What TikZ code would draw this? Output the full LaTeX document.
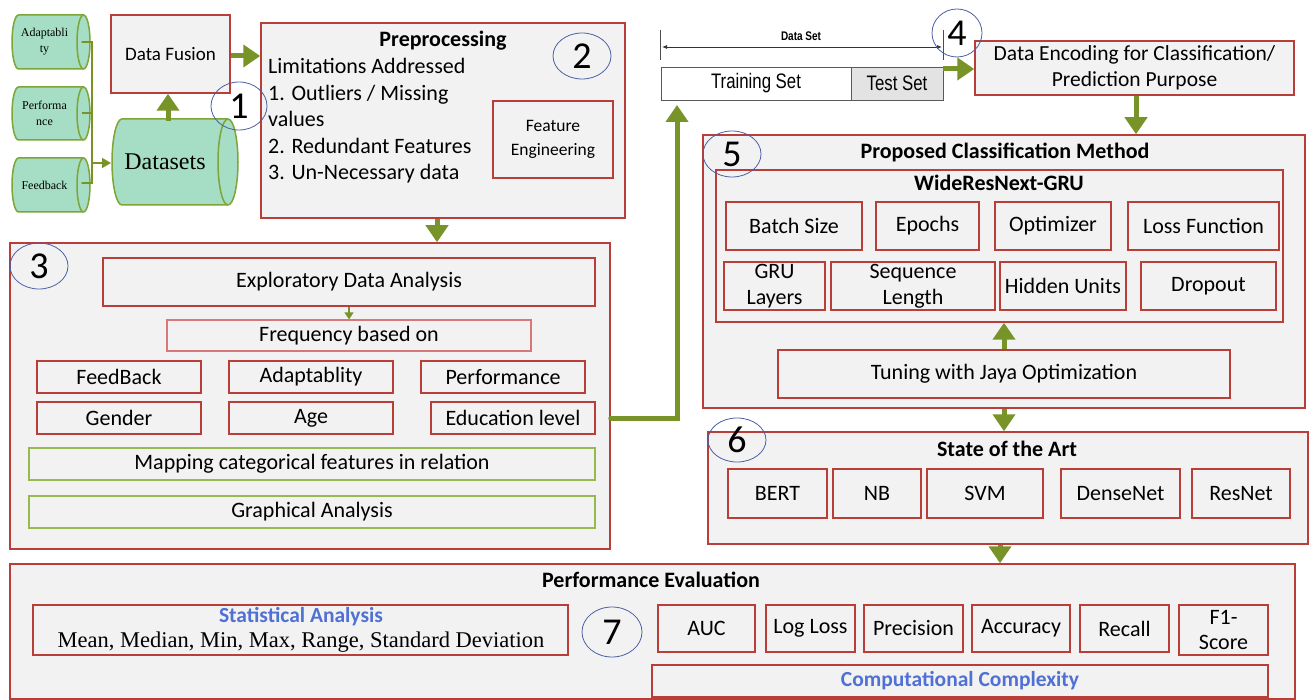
\documentclass[tikz,border=0pt]{standalone}
\usepackage{fontspec}
\setmainfont{Carlito}
\newfontfamily\tms{Liberation Serif}
\newfontfamily\arn[FakeStretch=0.8]{Liberation Sans}
\usetikzlibrary{arrows.meta,shapes.geometric,shadows}
\definecolor{bred}{RGB}{185,62,58}
\definecolor{bfill}{RGB}{242,242,242}
\definecolor{agreen}{RGB}{120,148,40}
\definecolor{lgreen}{RGB}{150,185,80}
\definecolor{cylfill}{RGB}{165,221,197}
\definecolor{cylline}{RGB}{125,165,55}
\definecolor{cblue}{RGB}{75,95,165}
\definecolor{tblue}{RGB}{80,112,212}
\definecolor{pred}{RGB}{215,120,120}
\newcommand\fs[2]{\fontsize{#1}{#2}\selectfont}
\newcommand\mkbox[7]{\node[#1,minimum width={#5-#3},minimum height={#6-#4}] (#2) at ({(#3+#5)/2},{(#4+#6)/2}) {#7};}
\newcommand\mkcyl[8]{%
  \path[fill=cylfill, draw=cylline, line width=1.5pt] (#2+#6,#3) -- (#4-#6,#3)
    arc[start angle=90,end angle=-90,x radius=#6pt,y radius={(#5-#3)/2*1pt}] -- (#2+#6,#5)
    arc[start angle=270,end angle=90,x radius=#6pt,y radius={(#5-#3)/2*1pt}] -- cycle;
  \draw[cylline, line width=1.5pt] (#4-#6,#3) arc[start angle=90,end angle=270,x radius=#6pt,y radius={(#5-#3)/2*1pt}];
  \node[align=center, inner sep=0, font=#8] (#1) at ({(#2+#4)/2-#6},{(#3+#5)/2}) {#7};}
\begin{document}
\begin{tikzpicture}[x=1pt,y=-1pt,
  shd/.style={drop shadow={shadow xshift=1.3pt,shadow yshift=-1.3pt,opacity=0.25}},
  rb/.style={draw=bred, fill=bfill, line width=1.5pt, inner sep=0pt, align=center, font=\fs{22}{26}, shd},
  ob/.style={rb},
  gb/.style={rb, draw=lgreen},
  pb/.style={rb, draw=pred, line width=1.2pt},
  circ/.style={ellipse, draw=cblue, line width=0.8pt, inner sep=0, font=\fs{38}{38}},
  ttl/.style={font=\bfseries\fs{22}{24}, inner sep=0},
  garrow/.style={draw=agreen, line width=5pt, -{Triangle[length=17pt,width=22pt]}},
  gline/.style={draw=agreen, line width=1.5pt},
  tbox/.style={draw=black!65, line width=0.9pt, fill=white, font=\arn\fs{21}{21}, inner sep=0}
]
\useasboundingbox[fill=white] (0,0) rectangle (1311,700);

% ---------- block 1 ----------
\mkcyl{cad}{12}{15}{90}{69}{6.5}{Adaptabli\\ty}{\tms\fs{12}{16}}
\mkcyl{cpe}{12}{87}{90}{140}{6.5}{Performa\\nce}{\tms\fs{12}{16}}
\mkcyl{cfe}{12}{158}{90}{212}{6.5}{Feedback}{\tms\fs{12}{16}}
\mkcyl{dsets}{112}{119}{238}{205}{10}{Datasets}{\tms\fs{24}{26}}
\coordinate (cado) at (82,42);
\coordinate (cpeo) at (82,113);
\coordinate (cfeo) at (82,183);
\coordinate (jn) at (92,163);
\coordinate (dsl) at (111,163);
\coordinate (dstop) at (168,121);
\draw[gline, line cap=round] (cado) -| (jn);
\draw[gline, line cap=round] (cfeo) -| (jn);
\draw[gline] (cpeo) -- (cpeo -| jn);
\draw[gline, -{Triangle[length=9pt,width=10pt]}] (jn) -- (dsl);

\mkbox{rb, font=\fs{19}{22}}{fusion}{111}{15}{230}{93}{Data Fusion}
\draw[garrow] (dstop) -- (dstop |- fusion.south);

% ---------- block 2 ----------
\mkbox{ob}{pre}{261}{23}{625}{218}{}
\node[ttl] (pret) at (443,41) {Preprocessing};
\node[anchor=north west, align=left, inner sep=0, font=\fs{22}{26.6}] (pretx) at (268,58)
  {Limitations Addressed\\1. Outliers / Missing\\values\\2. Redundant Features\\3. Un-Necessary data};
\mkbox{rb, font=\fs{17.5}{24}}{feat}{493}{101}{613}{178}{Feature\\Engineering}
\draw[garrow] (fusion.east |- 0,56) -- (pre.west |- 0,56);

% ---------- block 3 ----------
\mkbox{ob}{b3}{10}{243}{610}{549}{}
\draw[garrow] (pre.south -| 437,0) -- (b3.north -| 437,0);
\mkbox{rb}{eda}{103}{258}{595}{306}{Exploratory Data Analysis}
\mkbox{pb}{freq}{167}{320}{531}{351}{Frequency based on}
\draw[agreen, line width=1.3pt, -{Triangle[length=7pt,width=9pt]}] (eda.south -| freq.north) -- (freq.north);
\mkbox{rb}{fb}{37}{361}{201}{393}{FeedBack}
\mkbox{rb}{ad}{229}{361}{393}{393}{Adaptablity}
\mkbox{rb}{pf}{421}{361}{585}{393}{Performance}
\mkbox{rb}{gen}{37}{402}{201}{434}{Gender}
\mkbox{rb}{age}{229}{402}{393}{434}{Age}
\mkbox{rb}{edu}{431}{402}{595}{434}{Education level}
\mkbox{gb}{map}{29}{448}{595}{480}{Mapping categorical features in relation}
\mkbox{gb}{gra}{29}{496}{595}{528}{Graphical Analysis}

% ---------- block 4 ----------
\mkbox{tbox}{train}{661}{67}{851}{100}{Training Set}
\mkbox{tbox, fill=black!11}{test}{851}{67}{943}{100}{Test Set}
\draw[black!70, line width=0.8pt] (train.north west) ++(0,-7) -- ++(0,-30);
\draw[black!70, line width=0.8pt] (test.north east) ++(0,-7) -- ++(0,-30);
\coordinate (dsa) at (662,47);
\coordinate (dsb) at (942,47);
\draw[black!80, line width=0.8pt, {Latex[length=5pt,width=4pt]}-{Latex[length=5pt,width=4pt]}] (dsa) -- (dsb);
\node[font=\arn\bfseries\fs{12.5}{12}, inner sep=0] (dslbl) at (801,36) {Data Set};
\coordinate (tsin) at (677,105);
\draw[garrow, line cap=round] (b3.east |- edu.east) -| (tsin);

\mkbox{rb, font=\fs{21.5}{26}}{enc}{975}{41}{1294}{95}{Data Encoding for Classification/\\Prediction Purpose}
\draw[garrow] (test.east |- 0,69) -- (enc.west |- 0,69);

% ---------- block 5 ----------
\mkbox{ob}{b5}{703}{135}{1305}{408}{}
\draw[garrow] (enc.south -| 1136,0) -- (b5.north -| 1136,0);
\node[ttl] (b5t) at (1005,152) {Proposed Classification Method};
\mkbox{ob}{wr}{716}{170}{1283}{322}{}
\node[ttl] (wrt) at (999,183) {WideResNext-GRU};
\mkbox{rb}{bs}{726}{202}{862}{250}{Batch Size}
\mkbox{rb}{ep}{876}{202}{979}{250}{Epochs}
\mkbox{rb}{opt}{995}{202}{1111}{250}{Optimizer}
\mkbox{rb}{lf}{1128}{202}{1279}{250}{Loss Function}
\mkbox{rb, font=\fs{22}{26}}{gru}{724}{262}{825}{310}{GRU\\Layers}
\mkbox{rb, font=\fs{22}{26}}{seq}{831}{262}{995}{310}{Sequence\\Length}
\mkbox{rb}{hid}{1000}{262}{1126}{310}{Hidden Units}
\mkbox{rb}{dro}{1141}{262}{1276}{310}{Dropout}
\mkbox{rb}{tun}{778}{350}{1230}{398}{Tuning with Jaya Optimization}
\draw[garrow] (tun.north) -- (tun.north |- wr.south);

% ---------- block 6 ----------
\mkbox{ob}{b6}{708}{432}{1308}{544}{}
\draw[garrow] (b5.south -| tun.north) -- (b6.north -| tun.north);
\node[ttl] (b6t) at (1007,449) {State of the Art};
\mkbox{rb}{bert}{728}{469}{827}{518}{BERT}
\mkbox{rb}{nb}{833}{469}{921}{518}{NB}
\mkbox{rb}{svm}{927}{469}{1043}{518}{SVM}
\mkbox{rb}{dense}{1061}{469}{1180}{518}{DenseNet}
\mkbox{rb}{res}{1192}{469}{1290}{518}{ResNet}

% ---------- block 7 ----------
\mkbox{ob}{b7}{10}{564}{1295}{699}{}
\draw[garrow] (b6.south -| 1000,0) -- (b7.north -| 1000,0);
\node[ttl] (b7t) at (651,580) {Performance Evaluation};
\mkbox{rb}{stat}{33}{605}{568}{655}{}
\node[inner sep=0, font=\bfseries\fs{21.5}{22}, text=tblue] (statt) at (301,617) {Statistical Analysis};
\node[inner sep=0, font=\tms\fs{22.5}{23}] (statx) at (301,642) {Mean, Median, Min, Max, Range, Standard Deviation};
\mkbox{rb}{auc}{658}{605}{755}{652}{AUC}
\mkbox{rb}{ll}{766}{605}{855}{652}{Log Loss}
\mkbox{rb}{prec}{864}{605}{963}{652}{Precision}
\mkbox{rb}{acc}{972}{605}{1070}{652}{Accuracy}
\mkbox{rb}{rec}{1080}{605}{1169}{652}{Recall}
\mkbox{rb, font=\fs{22}{25}}{f1}{1179}{605}{1268}{655}{F1-\\Score}
\mkbox{rb, font=\bfseries\fs{21.5}{22}, text=tblue}{comp}{652}{665}{1268}{697}{Computational Complexity}

% ---------- numbered circles ----------
\node[circ, minimum width=56, minimum height=48] (n1) at (239,106) {1};
\node[circ, minimum width=58, minimum height=46] (n2) at (582,56) {2};
\node[circ, minimum width=58, minimum height=46] (n3) at (39,266) {3};
\node[circ, minimum width=50, minimum height=48] (n4) at (957,33) {4};
\node[circ, minimum width=58, minimum height=46] (n5) at (732,154) {5};
\node[circ, minimum width=58, minimum height=44] (n6) at (737,440) {6};
\node[circ, minimum width=60, minimum height=50] (n7) at (612,632) {7};
\end{tikzpicture}
\end{document}
